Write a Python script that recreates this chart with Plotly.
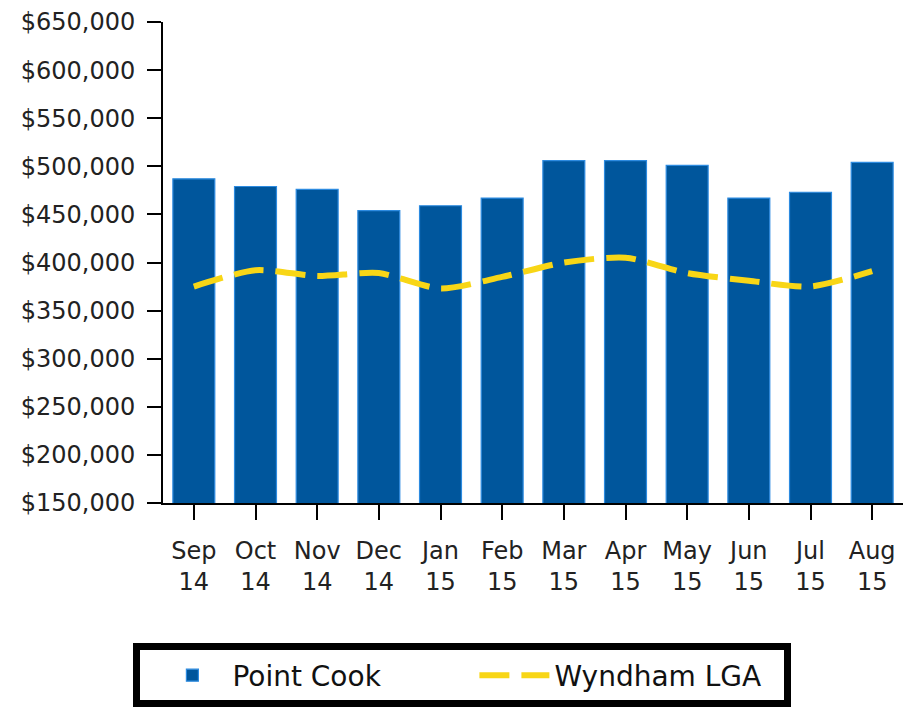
import plotly.graph_objects as go

months = ["Sep<br>14", "Oct<br>14", "Nov<br>14", "Dec<br>14", "Jan<br>15", "Feb<br>15",
          "Mar<br>15", "Apr<br>15", "May<br>15", "Jun<br>15", "Jul<br>15", "Aug<br>15"]
point_cook = [487000, 479000, 476000, 454000, 459000, 467000,
              506000, 506000, 501000, 467000, 473000, 504000]
wyndham = [375000, 392000, 386000, 389000, 373000, 385000,
           400000, 405000, 389000, 381000, 375000, 391000]
y_tick_vals = [150000, 200000, 250000, 300000, 350000, 400000,
               450000, 500000, 550000, 600000, 650000]
y_tick_text = ["$150,000", "$200,000", "$250,000", "$300,000", "$350,000", "$400,000",
               "$450,000", "$500,000", "$550,000", "$600,000", "$650,000"]

FONT = "DejaVu Sans, Verdana, sans-serif"

fig = go.Figure()
fig.add_trace(go.Bar(
    x=months, y=point_cook, name="Point Cook",
    marker=dict(color="#00569C", line=dict(color="#2D8BE0", width=1.2)),
    width=0.68,
))
fig.add_trace(go.Scatter(
    x=months, y=wyndham, name="Wyndham LGA", mode="lines",
    line=dict(color="#F8D616", width=6, dash="30px,12px", shape="spline", smoothing=0.7),
))

fig.update_layout(
    width=905, height=713,
    margin=dict(l=163, r=2, t=22, b=210),
    paper_bgcolor="white", plot_bgcolor="white",
    font=dict(family=FONT, color="#222222"),
    showlegend=True,
    legend=dict(
        orientation="h", x=-0.04, xanchor="left", y=-0.292, yanchor="top",
        bordercolor="black", borderwidth=7, bgcolor="white",
        font=dict(family=FONT, size=28, color="#111111"),
        entrywidth=225, itemwidth=70, indentation=12,
    ),
    xaxis=dict(
        range=[-0.5, 11.5], showline=True, linecolor="black", linewidth=2,
        ticks="outside", ticklen=15, tickwidth=2, tickcolor="black",
        tickfont=dict(size=24, color="#222222"), ticklabelstandoff=10,
        showgrid=False, zeroline=False,
    ),
    yaxis=dict(
        range=[150000, 650000], tickvals=y_tick_vals, ticktext=y_tick_text,
        showline=True, linecolor="black", linewidth=2,
        ticks="outside", ticklen=14, tickwidth=2, tickcolor="black",
        tickfont=dict(size=24, color="#222222"), ticklabelstandoff=7,
        showgrid=False, zeroline=False,
    ),
)

fig.write_html("out.html", config={"displayModeBar": False},
               post_script="document.body.style.margin='0px';")
